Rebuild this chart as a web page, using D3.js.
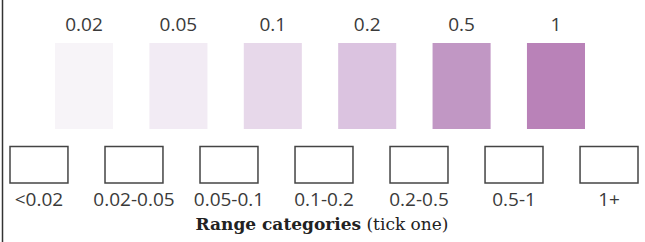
<!DOCTYPE html>
<html>
<head>
<meta charset="utf-8">
<script src="https://cdn.jsdelivr.net/npm/d3@7"></script>
<style>
  body { margin: 0; background: #fff; }
  svg { display: block; }
</style>
</head>
<body>
<script>
// concentration swatches (top row)
var swatchLabels = ["0.02", "0.05", "0.1", "0.2", "0.5", "1"];
var swatchColors = ["#f7f4f8", "#f2ebf4", "#e7d8ea", "#dbc3e0", "#c197c4", "#b982b8"];

// tick boxes (bottom row)
var rangeCategories = ["<0.02", "0.02-0.05", "0.05-0.1", "0.1-0.2", "0.2-0.5", "0.5-1", "1+"];

var width = 645, height = 242;

var svg = d3.select("body").append("svg")
    .attr("width", width)
    .attr("height", height);

// left frame line
svg.append("line")
    .attr("x1", 2.5).attr("x2", 2.5)
    .attr("y1", 0).attr("y2", height)
    .attr("stroke", "#333")
    .attr("stroke-width", 1.5);

// set the ranges
var xSwatch = d3.scaleBand()
    .domain(swatchLabels)
    .range([55, 585])
    .paddingInner(0.385);

var color = d3.scaleOrdinal()
    .domain(swatchLabels)
    .range(swatchColors);

var xBox = d3.scaleBand()
    .domain(rangeCategories)
    .range([10, 638])
    .paddingInner(0.39);

// swatches
svg.selectAll("rect.swatch")
    .data(swatchLabels)
  .enter().append("rect")
    .attr("class", "swatch")
    .attr("x", function(d) { return xSwatch(d); })
    .attr("y", 43)
    .attr("width", xSwatch.bandwidth())
    .attr("height", 86)
    .attr("fill", function(d) { return color(d); });

svg.selectAll("text.swatch-label")
    .data(swatchLabels)
  .enter().append("text")
    .attr("class", "swatch-label")
    .attr("x", function(d) { return xSwatch(d) + xSwatch.bandwidth() / 2; })
    .attr("y", 31)
    .attr("text-anchor", "middle")
    .style("font-family", "'Open Sans', sans-serif")
    .style("font-size", "19px")
    .style("fill", "#3a3a3a")
    .text(function(d) { return d; });

// tick boxes
svg.selectAll("rect.box")
    .data(rangeCategories)
  .enter().append("rect")
    .attr("class", "box")
    .attr("x", function(d) { return xBox(d); })
    .attr("y", 146.5)
    .attr("width", xBox.bandwidth())
    .attr("height", 36.5)
    .attr("fill", "none")
    .attr("stroke", "#444")
    .attr("stroke-width", 1.5);

svg.selectAll("text.box-label")
    .data(rangeCategories)
  .enter().append("text")
    .attr("class", "box-label")
    .attr("x", function(d) { return xBox(d) + xBox.bandwidth() / 2; })
    .attr("y", 206)
    .attr("text-anchor", "middle")
    .style("font-family", "'Open Sans', sans-serif")
    .style("font-size", "19px")
    .style("fill", "#3a3a3a")
    .text(function(d) { return d; });

// title
var title = svg.append("text")
    .attr("x", 322)
    .attr("y", 230)
    .attr("text-anchor", "middle")
    .style("font-family", "'DejaVu Serif', serif")
    .style("font-size", "17px")
    .style("fill", "#222");
title.append("tspan")
    .style("font-weight", "bold")
    .text("Range categories");
title.append("tspan")
    .text(" (tick one)");
</script>
</body>
</html>
